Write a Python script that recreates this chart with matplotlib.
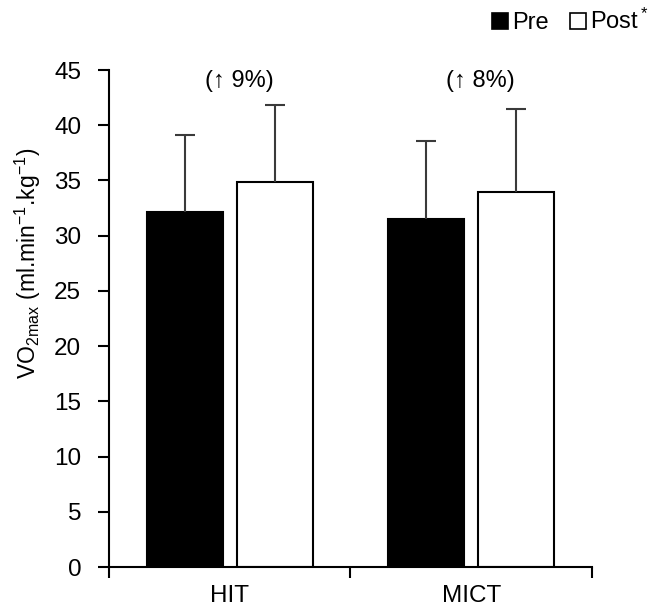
import matplotlib.pyplot as plt
import numpy as np
from matplotlib.patches import Patch

plt.rcParams['font.family'] = ['Liberation Sans', 'DejaVu Sans']
plt.rcParams['mathtext.fontset'] = 'custom'
plt.rcParams['mathtext.rm'] = 'Liberation Sans'
plt.rcParams['mathtext.it'] = 'Liberation Sans'

# data
groups = ['HIT', 'MICT']
pre_mean = [32.1, 31.5]
pre_sd = [7.0, 7.1]
post_mean = [34.9, 34.0]
post_sd = [6.95, 7.45]
changes = ['(\u2191 9%)', '(\u2191 8%)']

fig = plt.figure(figsize=(6.66, 6.12), dpi=100)
ax = fig.add_axes([0.1637, 0.0735, 0.725, 0.8121])

x = np.arange(len(groups))
w = 0.315
off = 0.187
err_kw = dict(ecolor='#3a3a3a', elinewidth=1.5, capsize=7, capthick=1.5)

b1 = ax.bar(x - off, pre_mean, w, color='black', edgecolor='black', linewidth=1.5,
            yerr=[np.zeros(2), pre_sd], error_kw=err_kw, zorder=2)
b2 = ax.bar(x + off, post_mean, w, color='white', edgecolor='black', linewidth=1.5,
            yerr=[np.zeros(2), post_sd], error_kw=err_kw, zorder=2)
# only the upper caps
for b in (b1, b2):
    b.errorbar.lines[1][0].set_visible(False)

for i, txt in enumerate(changes):
    ax.text(x[i] + 0.04, 44.0, txt, ha='center', va='center', fontsize=17)

ax.set_xlim(-0.5, 1.5)
ax.set_ylim(0, 45)
ax.set_yticks(range(0, 46, 5))
ax.set_xticks(x)
ax.set_xticklabels(groups)
ax.set_xticks([-0.5, 0.5, 1.5], minor=True)
ax.tick_params(axis='x', which='major', length=0, labelsize=17.5, pad=13)
ax.tick_params(axis='x', which='minor', length=8, width=1.5, direction='out')
ax.tick_params(axis='y', length=8, width=1.5, labelsize=17.5, pad=12)
for s in ['top', 'right']:
    ax.spines[s].set_visible(False)
for s in ['left', 'bottom']:
    ax.spines[s].set_linewidth(1.5)

ax.set_ylabel('VO$_{2max}$ (ml.min$^{-1}$.kg$^{-1}$)', fontsize=16.5)
ax.yaxis.set_label_coords(-0.137, 0.612)

handles = [Patch(facecolor='black', edgecolor='black', linewidth=1.2),
           Patch(facecolor='white', edgecolor='black', linewidth=1.2)]
fig.legend(handles, ['Pre', 'Post$^*$'], loc='upper right', bbox_to_anchor=(1.005, 1.02),
           ncol=2, frameon=False, fontsize=17, handlelength=0.7, handleheight=0.7,
           handletextpad=0.15, columnspacing=0.9)

fig.savefig('out.png', dpi=100)
